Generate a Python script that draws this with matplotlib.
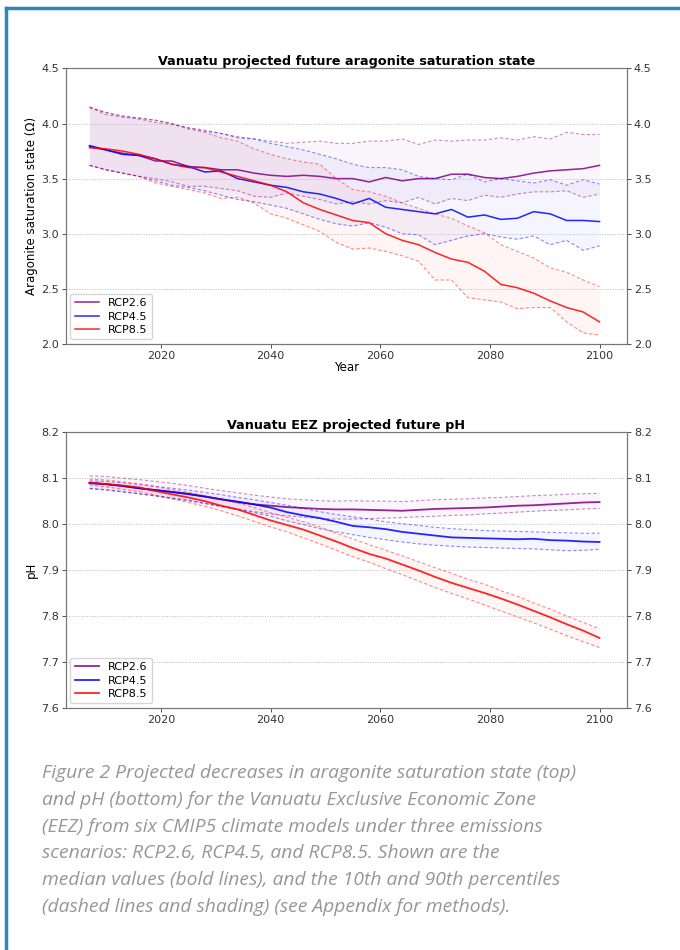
import numpy as np
import matplotlib
matplotlib.use("Agg")
import matplotlib.pyplot as plt
from matplotlib.lines import Line2D

years = np.arange(2007, 2101, 3)

# aragonite saturation state (top panel)
ar26_med = [3.79, 3.76, 3.73, 3.71, 3.66, 3.66, 3.61, 3.60, 3.58, 3.58, 3.55, 3.53, 3.52, 3.53, 3.52, 3.50,
            3.50, 3.47, 3.51, 3.48, 3.50, 3.50, 3.54, 3.54, 3.51, 3.50, 3.52, 3.55, 3.57, 3.58, 3.59, 3.62]
ar26_hi = [4.15, 4.08, 4.06, 4.04, 4.01, 3.99, 3.96, 3.94, 3.91, 3.88, 3.86, 3.84, 3.82, 3.83, 3.84, 3.82,
           3.82, 3.84, 3.84, 3.86, 3.81, 3.85, 3.84, 3.85, 3.85, 3.87, 3.85, 3.88, 3.86, 3.92, 3.90, 3.90]
ar26_lo = [3.62, 3.58, 3.55, 3.52, 3.50, 3.47, 3.43, 3.43, 3.41, 3.39, 3.34, 3.33, 3.37, 3.34, 3.31, 3.27,
           3.29, 3.27, 3.30, 3.28, 3.33, 3.27, 3.32, 3.30, 3.35, 3.33, 3.36, 3.38, 3.38, 3.39, 3.33, 3.36]
ar45_med = [3.80, 3.76, 3.72, 3.71, 3.68, 3.63, 3.61, 3.56, 3.57, 3.50, 3.47, 3.44, 3.42, 3.38, 3.36, 3.32,
            3.27, 3.32, 3.24, 3.22, 3.20, 3.18, 3.22, 3.15, 3.17, 3.13, 3.14, 3.20, 3.18, 3.12, 3.12, 3.11]
ar45_hi = [4.15, 4.10, 4.07, 4.05, 4.03, 4.00, 3.96, 3.93, 3.91, 3.87, 3.86, 3.82, 3.79, 3.76, 3.72, 3.68,
           3.63, 3.60, 3.60, 3.58, 3.52, 3.50, 3.49, 3.54, 3.47, 3.50, 3.48, 3.46, 3.49, 3.44, 3.49, 3.45]
ar45_lo = [3.62, 3.58, 3.55, 3.52, 3.48, 3.44, 3.42, 3.39, 3.35, 3.31, 3.29, 3.26, 3.23, 3.18, 3.13, 3.09,
           3.07, 3.10, 3.06, 3.00, 2.99, 2.90, 2.94, 2.98, 3.00, 2.97, 2.95, 2.98, 2.90, 2.94, 2.85, 2.89]
ar85_med = [3.78, 3.77, 3.75, 3.72, 3.68, 3.63, 3.60, 3.60, 3.56, 3.52, 3.48, 3.44, 3.38, 3.28, 3.22, 3.17,
            3.12, 3.10, 3.00, 2.94, 2.90, 2.83, 2.77, 2.74, 2.66, 2.54, 2.51, 2.46, 2.39, 2.33, 2.29, 2.20]
ar85_hi = [4.14, 4.10, 4.06, 4.05, 4.03, 4.00, 3.95, 3.92, 3.87, 3.84, 3.77, 3.72, 3.68, 3.65, 3.63, 3.50,
           3.40, 3.38, 3.34, 3.28, 3.23, 3.18, 3.14, 3.07, 3.01, 2.90, 2.84, 2.78, 2.69, 2.65, 2.58, 2.52]
ar85_lo = [3.62, 3.58, 3.55, 3.52, 3.46, 3.43, 3.40, 3.37, 3.32, 3.33, 3.28, 3.18, 3.14, 3.08, 3.02, 2.92,
           2.86, 2.87, 2.84, 2.80, 2.75, 2.58, 2.58, 2.42, 2.40, 2.38, 2.32, 2.33, 2.33, 2.20, 2.10, 2.08]

# pH (bottom panel)
ph26_med = [8.090, 8.087, 8.083, 8.078, 8.074, 8.070, 8.065, 8.060, 8.054, 8.049, 8.043, 8.040, 8.037, 8.035,
            8.033, 8.032, 8.032, 8.031, 8.030, 8.029, 8.031, 8.033, 8.034, 8.035, 8.036, 8.038, 8.040, 8.041,
            8.043, 8.045, 8.047, 8.048]
ph26_hi = [8.105, 8.104, 8.100, 8.097, 8.093, 8.089, 8.084, 8.078, 8.073, 8.068, 8.063, 8.059, 8.055, 8.053,
           8.051, 8.050, 8.051, 8.050, 8.050, 8.049, 8.051, 8.053, 8.054, 8.055, 8.057, 8.058, 8.060, 8.062,
           8.063, 8.065, 8.066, 8.067]
ph26_lo = [8.077, 8.074, 8.070, 8.066, 8.061, 8.056, 8.051, 8.045, 8.039, 8.033, 8.027, 8.022, 8.018, 8.015,
           8.012, 8.011, 8.011, 8.012, 8.013, 8.014, 8.016, 8.017, 8.019, 8.020, 8.022, 8.024, 8.026, 8.028,
           8.030, 8.031, 8.033, 8.034]
ph45_med = [8.089, 8.087, 8.083, 8.078, 8.074, 8.070, 8.066, 8.060, 8.054, 8.048, 8.043, 8.036, 8.026, 8.019,
            8.013, 8.005, 7.996, 7.993, 7.989, 7.983, 7.979, 7.975, 7.971, 7.970, 7.969, 7.968, 7.967, 7.968,
            7.965, 7.964, 7.962, 7.961]
ph45_hi = [8.094, 8.093, 8.090, 8.086, 8.082, 8.078, 8.074, 8.069, 8.064, 8.058, 8.053, 8.047, 8.041, 8.034,
           8.027, 8.021, 8.016, 8.011, 8.005, 8.001, 7.997, 7.993, 7.990, 7.988, 7.986, 7.985, 7.984, 7.983,
           7.982, 7.981, 7.980, 7.980]
ph45_lo = [8.078, 8.075, 8.071, 8.066, 8.062, 8.057, 8.052, 8.045, 8.038, 8.032, 8.025, 8.017, 8.007, 7.999,
           7.990, 7.983, 7.977, 7.971, 7.966, 7.961, 7.957, 7.954, 7.952, 7.950, 7.949, 7.948, 7.947, 7.946,
           7.944, 7.942, 7.943, 7.945]
ph85_med = [8.090, 8.087, 8.084, 8.080, 8.072, 8.065, 8.058, 8.050, 8.040, 8.032, 8.020, 8.008, 7.998, 7.988,
            7.975, 7.962, 7.948, 7.935, 7.925, 7.912, 7.899, 7.885, 7.872, 7.861, 7.850, 7.838, 7.825, 7.811,
            7.797, 7.782, 7.768, 7.752]
ph85_hi = [8.098, 8.096, 8.092, 8.088, 8.082, 8.075, 8.069, 8.062, 8.054, 8.046, 8.036, 8.025, 8.015, 8.005,
           7.994, 7.980, 7.968, 7.955, 7.943, 7.931, 7.918, 7.905, 7.893, 7.880, 7.869, 7.855, 7.843, 7.828,
           7.815, 7.800, 7.786, 7.772]
ph85_lo = [8.085, 8.081, 8.076, 8.071, 8.063, 8.055, 8.047, 8.039, 8.029, 8.018, 8.006, 7.994, 7.983, 7.970,
           7.957, 7.943, 7.929, 7.917, 7.903, 7.890, 7.876, 7.862, 7.849, 7.837, 7.824, 7.811, 7.798, 7.785,
           7.771, 7.757, 7.744, 7.731]

labels = ["RCP2.6", "RCP4.5", "RCP8.5"]
colors = ["purple", "blue", "red"]

caption = [
    "Figure 2 Projected decreases in aragonite saturation state (top)",
    "and pH (bottom) for the Vanuatu Exclusive Economic Zone",
    "(EEZ) from six CMIP5 climate models under three emissions",
    "scenarios: RCP2.6, RCP4.5, and RCP8.5. Shown are the",
    "median values (bold lines), and the 10th and 90th percentiles",
    "(dashed lines and shading) (see Appendix for methods).",
]

plt.rcParams["font.family"] = ["DejaVu Sans"]
plt.rcParams["font.size"] = 8

fig = plt.figure(figsize=(6.8, 9.5), dpi=100)


def panel(rect, meds, his, los, ylim, yticks, title, ylabel, xlabel, lw):
    ax = fig.add_axes(rect)
    for med, hi, lo, c, lab in zip(meds, his, los, colors, labels):
        ax.fill_between(years, lo, hi, color=c, alpha=0.04, lw=0)
        ax.plot(years, hi, color=c, ls="--", lw=0.8, alpha=0.45, dashes=(3, 2))
        ax.plot(years, lo, color=c, ls="--", lw=0.8, alpha=0.45, dashes=(3, 2))
        ax.plot(years, med, color=c, lw=lw, alpha=0.85, label=lab)
    ax.set_xlim(2002.7, 2105)
    ax.set_ylim(*ylim)
    ax.set_yticks(yticks)
    ax.set_xticks([2020, 2040, 2060, 2080, 2100])
    ax.yaxis.grid(True, ls=":", color="#bbbbbb", lw=0.7)
    ax.set_title(title, fontsize=9.2, fontweight="bold", pad=2)
    ax.set_ylabel(ylabel, fontsize=8.5, labelpad=2)
    if xlabel:
        ax.set_xlabel(xlabel, fontsize=8.5, labelpad=0)
    for s in ax.spines.values():
        s.set_color("#777777")
    ax.tick_params(colors="#333333", length=3, width=0.6, labelsize=8, pad=2)
    ax.legend(loc="lower left", fontsize=8, frameon=True, handlelength=2.2,
              borderpad=0.4, labelspacing=0.3, borderaxespad=0.4)
    ax2 = ax.twinx()
    ax2.set_ylim(*ylim)
    ax2.set_yticks(yticks)
    ax2.tick_params(colors="#333333", length=3, width=0.6, labelsize=8, pad=2)
    for s in ax2.spines.values():
        s.set_color("#777777")
    return ax


panel([0.097, 0.638, 0.825, 0.29], [ar26_med, ar45_med, ar85_med],
      [ar26_hi, ar45_hi, ar85_hi], [ar26_lo, ar45_lo, ar85_lo],
      (2.0, 4.5), [2.0, 2.5, 3.0, 3.5, 4.0, 4.5],
      "Vanuatu projected future aragonite saturation state",
      "Aragonite saturation state (\u03a9)", "Year", 1.1)

panel([0.097, 0.255, 0.825, 0.29], [ph26_med, ph45_med, ph85_med],
      [ph26_hi, ph45_hi, ph85_hi], [ph26_lo, ph45_lo, ph85_lo],
      (7.6, 8.2), [7.6, 7.7, 7.8, 7.9, 8.0, 8.1, 8.2],
      "Vanuatu EEZ projected future pH", "pH", None, 1.3)

# page frame (blue rule on top and left)
fig.add_artist(Line2D([6 / 680, 1], [1 - 8 / 950, 1 - 8 / 950], color="#2f86b8", lw=2.5))
fig.add_artist(Line2D([6 / 680, 6 / 680], [0, 1 - 8 / 950], color="#2f86b8", lw=2.5))

for i, line in enumerate(caption):
    fig.text(42 / 680, 1 - (773 + 26.8 * i) / 950, line, family=["Open Sans", "DejaVu Sans"],
             style="italic", fontsize=13.9, color="#969696", va="center", ha="left")

fig.savefig("out.png", dpi=100)
